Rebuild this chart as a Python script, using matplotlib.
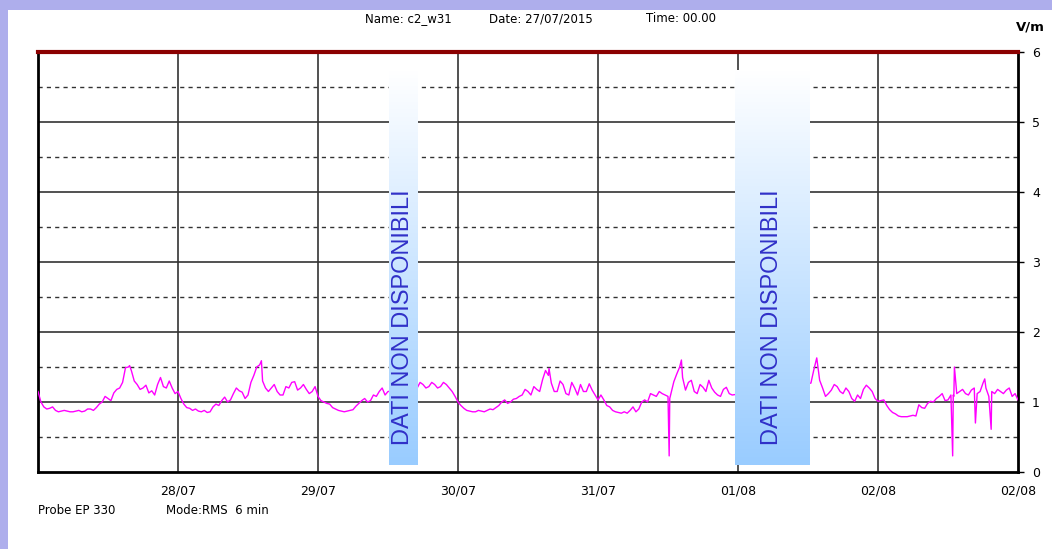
#!/usr/bin/env python3
"""Electric field RMS trend (V/m), week of 27/07/2015, probe EP 330."""

import matplotlib
matplotlib.use("Agg")
import matplotlib.pyplot as plt
import numpy as np
from matplotlib.patches import Rectangle

# RMS values, hours counted from 27/07 00:00
# on the hour
day1 = [1.15, 0.93, 0.91, 0.88, 0.87, 0.87, 0.86, 0.88, 0.87, 0.90, 0.92, 1.00,
        1.05, 1.13, 1.20, 1.49, 1.45, 1.25, 1.20, 1.13, 1.10, 1.35, 1.20, 1.20]
day2 = [1.15, 0.97, 0.91, 0.90, 0.86, 0.85, 0.93, 0.95, 1.07, 1.03, 1.20, 1.14,
        1.10, 1.38, 1.53, 1.20, 1.20, 1.15, 1.10, 1.20, 1.29, 1.20, 1.18, 1.15]
day3 = [1.08, 1.00, 0.97, 0.90, 0.87, 0.87, 0.89, 0.98, 1.05, 1.02, 1.08, 1.20,
        1.15, None, None, None, None, 1.20, 1.25, 1.22, 1.25, 1.22, 1.25, 1.15]
day4 = [1.00, 0.91, 0.87, 0.86, 0.87, 0.88, 0.89, 0.95, 1.03, 1.00, 1.05, 1.10,
        1.15, 1.22, 1.15, 1.45, 1.27, 1.15, 1.25, 1.10, 1.20, 1.25, 1.15, 1.17]
day5 = [1.03, 1.03, 0.93, 0.86, 0.84, 0.84, 0.93, 0.90, 1.03, 1.12, 1.08, 1.12,
        1.08, 1.29, 1.50, 1.17, 1.31, 1.12, 1.21, 1.31, 1.14, 1.08, 1.21, 1.10]
day6 = [None, None, None, None, None, None, None, None, None, None, None, None,
        None, 1.46, 1.31, 1.08, 1.17, 1.22, 1.12, 1.15, 1.01, 1.05, 1.24, 1.15]
day7 = [1.01, 1.03, 0.89, 0.83, 0.79, 0.79, 0.81, 0.96, 0.91, 1.01, 1.05, 1.12,
        1.03, 1.08, 1.15, 1.12, 1.17, 1.12, 1.27, 1.08, 1.12, 1.15, 1.17, 1.08, 1.03]

# on the half hour
half1 = [1.00, 0.90, 0.93, 0.86, 0.88, 0.86, 0.87, 0.86, 0.90, 0.88, 0.97, 1.08,
         1.02, 1.18, 1.28, 1.50, 1.30, 1.18, 1.24, 1.16, 1.25, 1.22, 1.30, 1.12]
half2 = [1.05, 0.92, 0.88, 0.87, 0.88, 0.86, 0.97, 1.02, 1.00, 1.12, 1.16, 1.05,
         1.28, 1.50, 1.30, 1.15, 1.25, 1.10, 1.22, 1.28, 1.17, 1.25, 1.12, 1.22]
half3 = [1.02, 0.98, 0.92, 0.88, 0.86, 0.88, 0.94, 1.02, 1.00, 1.10, 1.15, 1.10,
         None, None, None, None, None, 1.28, 1.20, 1.28, 1.20, 1.28, 1.20, 1.08]
half4 = [0.95, 0.88, 0.86, 0.88, 0.86, 0.90, 0.92, 1.00, 0.98, 1.04, 1.08, 1.18,
         1.10, 1.18, 1.32, 1.38, 1.15, 1.30, 1.12, 1.28, 1.10, 1.15, 1.26, 1.10]
half5 = [1.10, 0.95, 0.88, 0.85, 0.86, 0.88, 0.86, 1.00, 1.00, 1.10, 1.15, 1.10,
         1.12, 1.40, 1.35, 1.28, 1.15, 1.25, 1.15, 1.20, 1.10, 1.18, 1.12, None]
half6 = [None, None, None, None, None, None, None, None, None, None, None, None,
         1.27, 1.63, 1.20, 1.12, 1.25, 1.15, 1.20, 1.05, 1.10, 1.18, 1.20, 1.05]
half7 = [1.02, 0.95, 0.85, 0.80, 0.79, 0.80, 0.80, 0.92, 0.98, 1.00, 1.08, 1.02,
         1.10, 1.12, 1.18, 1.10, 1.20, 1.15, 1.20, 1.15, 1.18, 1.12, 1.20, 1.12]

# short peaks / dips between the readings (hour, V/m)
extra_hours = [15.7, 38.3, 87.6, 108.2, 108.3, 110.3, 156.8, 156.9, 157.1,
               160.7, 162.3, 163.4]
extra_vals = [1.52, 1.59, 1.48, 0.23, 1.05, 1.60, 0.23, 1.10, 1.50,
              0.70, 1.33, 0.61]

# missing-data windows (start hour, end hour)
gap_start = [60.1, 119.5]
gap_end = [65.0, 132.3]

tick_hours = [24, 48, 72, 96, 120, 144, 168]
tick_labels = ["28/07", "29/07", "30/07", "31/07", "01/08", "02/08", "02/08"]

values = day1 + day2 + day3 + day4 + day5 + day6 + day7
halves = half1 + half2 + half3 + half4 + half5 + half6 + half7
points = [(h, v) for h, v in enumerate(values) if v is not None]
points += [(h + 0.5, v) for h, v in enumerate(halves) if v is not None]
points += list(zip(extra_hours, extra_vals))
points.sort()
t = np.array([p[0] for p in points], dtype=float)
y = np.array([p[1] for p in points], dtype=float)
# break the line inside the gaps
for g0, g1 in zip(gap_start, gap_end):
    y[(t > g0) & (t < g1)] = np.nan

fig = plt.figure(figsize=(10.52, 5.49), dpi=100, facecolor="white")
fig.patches.append(Rectangle((0, 0), 1, 1, transform=fig.transFigure,
                             facecolor="#aeaeec", edgecolor="none", zorder=-2))
fig.patches.append(Rectangle((8 / 1052, 0), 1, 1 - 10 / 549, transform=fig.transFigure,
                             facecolor="white", edgecolor="none", zorder=-1))

ax = fig.add_axes([38 / 1052, 77 / 549, 980 / 1052, 420 / 549])
ax.set_xlim(0, 168)
ax.set_ylim(0, 6)

for v in [1, 2, 3, 4, 5]:
    ax.axhline(v, color="#333333", lw=1.2, zorder=1)
for v in [0.5, 1.5, 2.5, 3.5, 4.5, 5.5]:
    ax.axhline(v, color="#333333", lw=1.0, ls=(0, (3, 3)), zorder=1)
for h in tick_hours[:-1]:
    ax.axvline(h, color="#333333", lw=1.2, zorder=1)

ax.plot(t, y, color="#ff00ff", lw=1.0, zorder=3)

# gradient "no data" boxes: white at the top, light blue at the bottom
grad = np.linspace(0, 1, 256).reshape(-1, 1)
white = np.array([1.0, 1.0, 1.0])
blue = np.array([0.6, 0.8, 1.0])
rgb = white + (blue - white) * grad[:, :, None]
y_lo, y_hi = 0.1, 5.74
for g0, g1 in zip(gap_start, gap_end):
    ax.imshow(rgb, extent=[g0, g1, y_lo, y_hi], aspect="auto",
              origin="upper", zorder=4, interpolation="bilinear")
    ax.text((g0 + g1) / 2, 0.39, "DATI NON DISPONIBILI", rotation=90,
            ha="center", va="bottom", color="#3030c8", fontsize=17,
            family="Liberation Sans", zorder=5)

for side in ["left", "right", "bottom"]:
    ax.spines[side].set_color("black")
    ax.spines[side].set_linewidth(2)
ax.spines["top"].set_color("#8b0000")
ax.spines["top"].set_linewidth(3)

ax.set_xticks(tick_hours)
ax.set_xticklabels(tick_labels)
ax.tick_params(axis="x", length=0, pad=9, labelsize=9)
ax.yaxis.tick_right()
ax.set_yticks(range(7))
ax.tick_params(axis="y", length=4, width=1, pad=6, labelsize=9)

fig.text(408 / 1052, 1 - 19 / 549, "Name: c2_w31", ha="center", va="center", fontsize=8.5)
fig.text(541 / 1052, 1 - 19 / 549, "Date: 27/07/2015", ha="center", va="center", fontsize=8.5)
fig.text(681 / 1052, 1 - 19 / 549, "Time: 00.00", ha="center", va="center", fontsize=8.5)
fig.text(1030 / 1052, 1 - 27 / 549, "V/m", ha="center", va="center", fontsize=9.5,
         weight="bold")
fig.text(38 / 1052, 1 - 511 / 549, "Probe EP 330", ha="left", va="center", fontsize=8.5)
fig.text(166 / 1052, 1 - 511 / 549, "Mode:RMS  6 min", ha="left", va="center", fontsize=8.5)

fig.savefig("out.png", dpi=100, facecolor=fig.get_facecolor())
plt.close(fig)
